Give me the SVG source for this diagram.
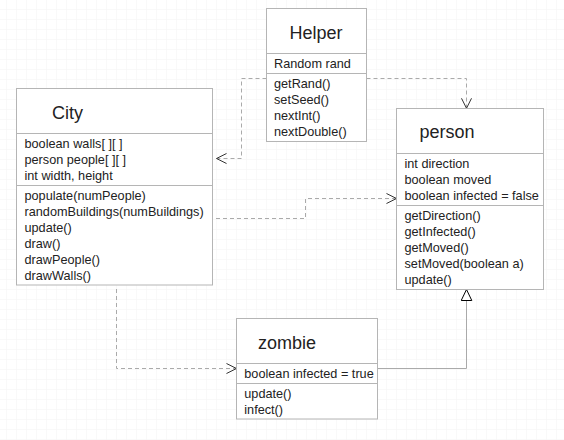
<svg xmlns="http://www.w3.org/2000/svg" width="564" height="440" viewBox="0 0 564 440">
<defs>
<pattern id="grid" x="6" y="9" width="10" height="10" patternUnits="userSpaceOnUse">
<path d="M0,0 H10 M0,0 V10" fill="none" stroke="#f4f4f4" stroke-width="1"/>
</pattern>
<marker id="open" markerUnits="userSpaceOnUse" markerWidth="14" markerHeight="14" viewBox="0 0 14 14" refX="11" refY="6" orient="auto">
<path d="M1,1 L11,6 L1,11" fill="none" stroke="#333" stroke-width="1"/>
</marker>
<marker id="tri" markerUnits="userSpaceOnUse" markerWidth="14" markerHeight="12" viewBox="0 0 14 12" refX="12" refY="6" orient="auto">
<path d="M1,0.7 L12,6 L1,11.3 Z" fill="#fff" stroke="#000" stroke-width="1"/>
</marker>
<style>
.box{fill:#fff;stroke:#b5b5b5;stroke-width:1}
.div{stroke:#b5b5b5;stroke-width:1}
.t{font-family:"Liberation Sans",Arial,sans-serif;font-size:18px;fill:#222}
.m{font-family:"Liberation Sans",Arial,sans-serif;font-size:12.7px;fill:#222}
.dash{fill:none;stroke:#aaa;stroke-width:1;stroke-dasharray:4,3}
.solid{fill:none;stroke:#aaa;stroke-width:1}
</style>
</defs>
<rect width="564" height="440" fill="#fff"/>
<rect width="564" height="440" fill="url(#grid)"/>

<g id="connectors">
<path class="dash" d="M266.5,78.5 H241.5 V158.5 H216.5" marker-end="url(#open)"/>
<path class="dash" d="M366.5,78.5 H466.5 V108.3" marker-end="url(#open)"/>
<path class="dash" d="M216,218.5 H305.5 V198.5 H396.5" marker-end="url(#open)"/>
<path class="dash" d="M116.5,289 V368.5 H236.5" marker-end="url(#open)"/>
<path class="solid" d="M377,368.5 H466.5 V289.5" marker-end="url(#tri)"/>
</g>

<g id="Helper">
<rect class="box" x="266.5" y="8.5" width="100" height="133"/>
<line class="div" x1="266.5" y1="53.5" x2="366.5" y2="53.5"/>
<line class="div" x1="266.5" y1="73.5" x2="366.5" y2="73.5"/>
<text class="t" x="316" y="38.5" text-anchor="middle">Helper</text>
<text class="m" x="274" y="67.8">Random rand</text>
<text class="m" x="274" y="88.3">getRand()</text>
<text class="m" x="274" y="104">setSeed()</text>
<text class="m" x="274" y="120.3">nextInt()</text>
<text class="m" x="274" y="136">nextDouble()</text>
</g>

<g id="City">
<rect class="box" x="16.5" y="88.5" width="196" height="196.5"/>
<line class="div" x1="16.5" y1="133.5" x2="212.5" y2="133.5"/>
<line class="div" x1="16.5" y1="185.5" x2="212.5" y2="185.5"/>
<text class="t" x="52" y="119">City</text>
<text class="m" x="24.5" y="147.7">boolean walls[ ][ ]</text>
<text class="m" x="24.5" y="163.8">person people[ ][ ]</text>
<text class="m" x="24.5" y="180.3">int width, height</text>
<text class="m" x="24.5" y="200.3">populate(numPeople)</text>
<text class="m" x="24.5" y="216.3">randomBuildings(numBuildings)</text>
<text class="m" x="24.5" y="232.3">update()</text>
<text class="m" x="24.5" y="248.3">draw()</text>
<text class="m" x="24.5" y="264.3">drawPeople()</text>
<text class="m" x="24.5" y="280.3">drawWalls()</text>
</g>

<g id="person">
<rect class="box" x="396.5" y="108.5" width="147" height="181"/>
<line class="div" x1="396.5" y1="153.5" x2="543.5" y2="153.5"/>
<line class="div" x1="396.5" y1="205.5" x2="543.5" y2="205.5"/>
<text class="t" x="419.5" y="138.3">person</text>
<text class="m" x="404.5" y="167.6">int direction</text>
<text class="m" x="404.5" y="183.8">boolean moved</text>
<text class="m" x="404.5" y="200.3">boolean infected = false</text>
<text class="m" x="404.5" y="220.3">getDirection()</text>
<text class="m" x="404.5" y="236.3">getInfected()</text>
<text class="m" x="404.5" y="252.3">getMoved()</text>
<text class="m" x="404.5" y="268.3">setMoved(boolean a)</text>
<text class="m" x="404.5" y="284.3">update()</text>
</g>

<g id="zombie">
<rect class="box" x="236.5" y="318.5" width="141" height="100.5"/>
<line class="div" x1="236.5" y1="363.5" x2="377.5" y2="363.5"/>
<line class="div" x1="236.5" y1="383.5" x2="377.5" y2="383.5"/>
<text class="t" x="258" y="348.7">zombie</text>
<text class="m" x="244.3" y="378.3">boolean infected = true</text>
<text class="m" x="244.3" y="398.3">update()</text>
<text class="m" x="244.3" y="414.3">infect()</text>
</g>
</svg>
